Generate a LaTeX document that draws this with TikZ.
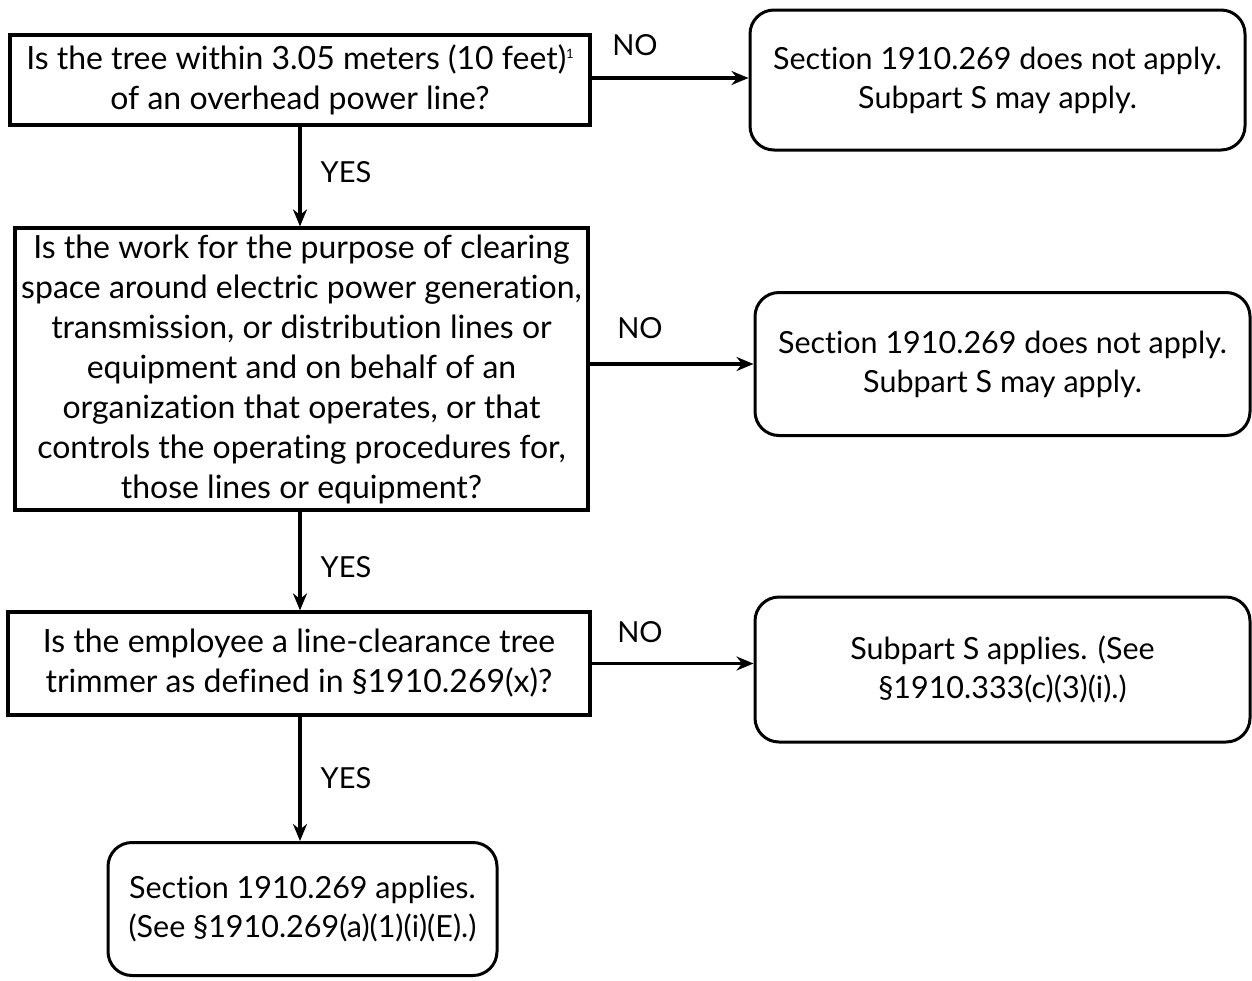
\documentclass[tikz,border=0pt]{standalone}
\usepackage{fontspec}
\setmainfont{Lato}[RawFeature={-liga;-clig;-calt;-dlig;-hlig}]
\usetikzlibrary{arrows.meta}
\newcommand\nti{t\kern0pt i}
\begin{document}
\begin{tikzpicture}[x=1pt,y=-1pt,
  every node/.style={font=\fontsize{32}{40}\selectfont, align=center, inner sep=0pt},
  qbox/.style={draw, line width=3.2pt, rectangle},
  abox/.style={draw, line width=3pt, rectangle, rounded corners=24pt, font=\fontsize{30.5}{39}\selectfont},
  conn/.style={line width=3.2pt, -{Stealth[length=17pt,width=14pt]}},
  lbl/.style={font=\fontsize{29}{30}\selectfont}]
\useasboundingbox (0,0) rectangle (1252,980);
\node[qbox, minimum width=580pt, minimum height=90pt] (q1) at (300,80)
  {Is the tree within 3.05 meters (10 feet)\raisebox{11pt}{\fontsize{13}{13}\selectfont 1}\\of an overhead power line?};
\node[abox, minimum width=495pt, minimum height=140pt] (r1) at (997.5,80)
  {Sec\nti on 1910.269 does not apply.\\Subpart S may apply.};
\node[qbox, minimum width=573pt, minimum height=282pt] (q2) at (301.5,369)
  {Is the work for the purpose of clearing\\space around electric power genera\nti on,\\transmission, or distribu\nti on lines or\\equipment and on behalf of an\\organiza\nti on that operates, or that\\controls the opera\nti ng procedures for,\\those lines or equipment?};
\node[abox, minimum width=495pt, minimum height=143pt] (r2) at (1002.5,364)
  {Sec\nti on 1910.269 does not apply.\\Subpart S may apply.};
\node[qbox, minimum width=582pt, minimum height=103pt] (q3) at (299,663.5)
  {Is the employee a line-clearance tree\\trimmer as defined in \S1910.269(x)?};
\node[abox, minimum width=495pt, minimum height=145pt] (r3) at (1002.5,669.5)
  {Subpart S applies. (See\\\S1910.333(c)(3)(i).)};
\node[abox, minimum width=389pt, minimum height=133pt] (a4) at (302.5,909)
  {Sec\nti on 1910.269 applies.\\(See \S1910.269(a)(1)(i)(E).)};
\coordinate (vx) at (300,0);
\draw[conn] (q1.east |- 0,78) -- (r1.west |- 0,78);
\draw[conn] (q2.east |- r2.west) -- (r2.west);
\draw[conn] (q3.east) -- (q3.east -| r3.west);
\draw[conn] (vx |- q1.south) -- (vx |- q2.north);
\draw[conn] (vx |- q2.south) -- (vx |- q3.north);
\draw[conn] (vx |- q3.south) -- (vx |- a4.north);
\node[lbl] (n1) at (635,45) {NO};
\node[lbl] (n2) at (640,328) {NO};
\node[lbl] (n3) at (640,632) {NO};
\node[lbl] (y1) at (346,172) {YES};
\node[lbl] (y2) at (346,567) {YES};
\node[lbl] (y3) at (346,778) {YES};
\end{tikzpicture}
\end{document}
